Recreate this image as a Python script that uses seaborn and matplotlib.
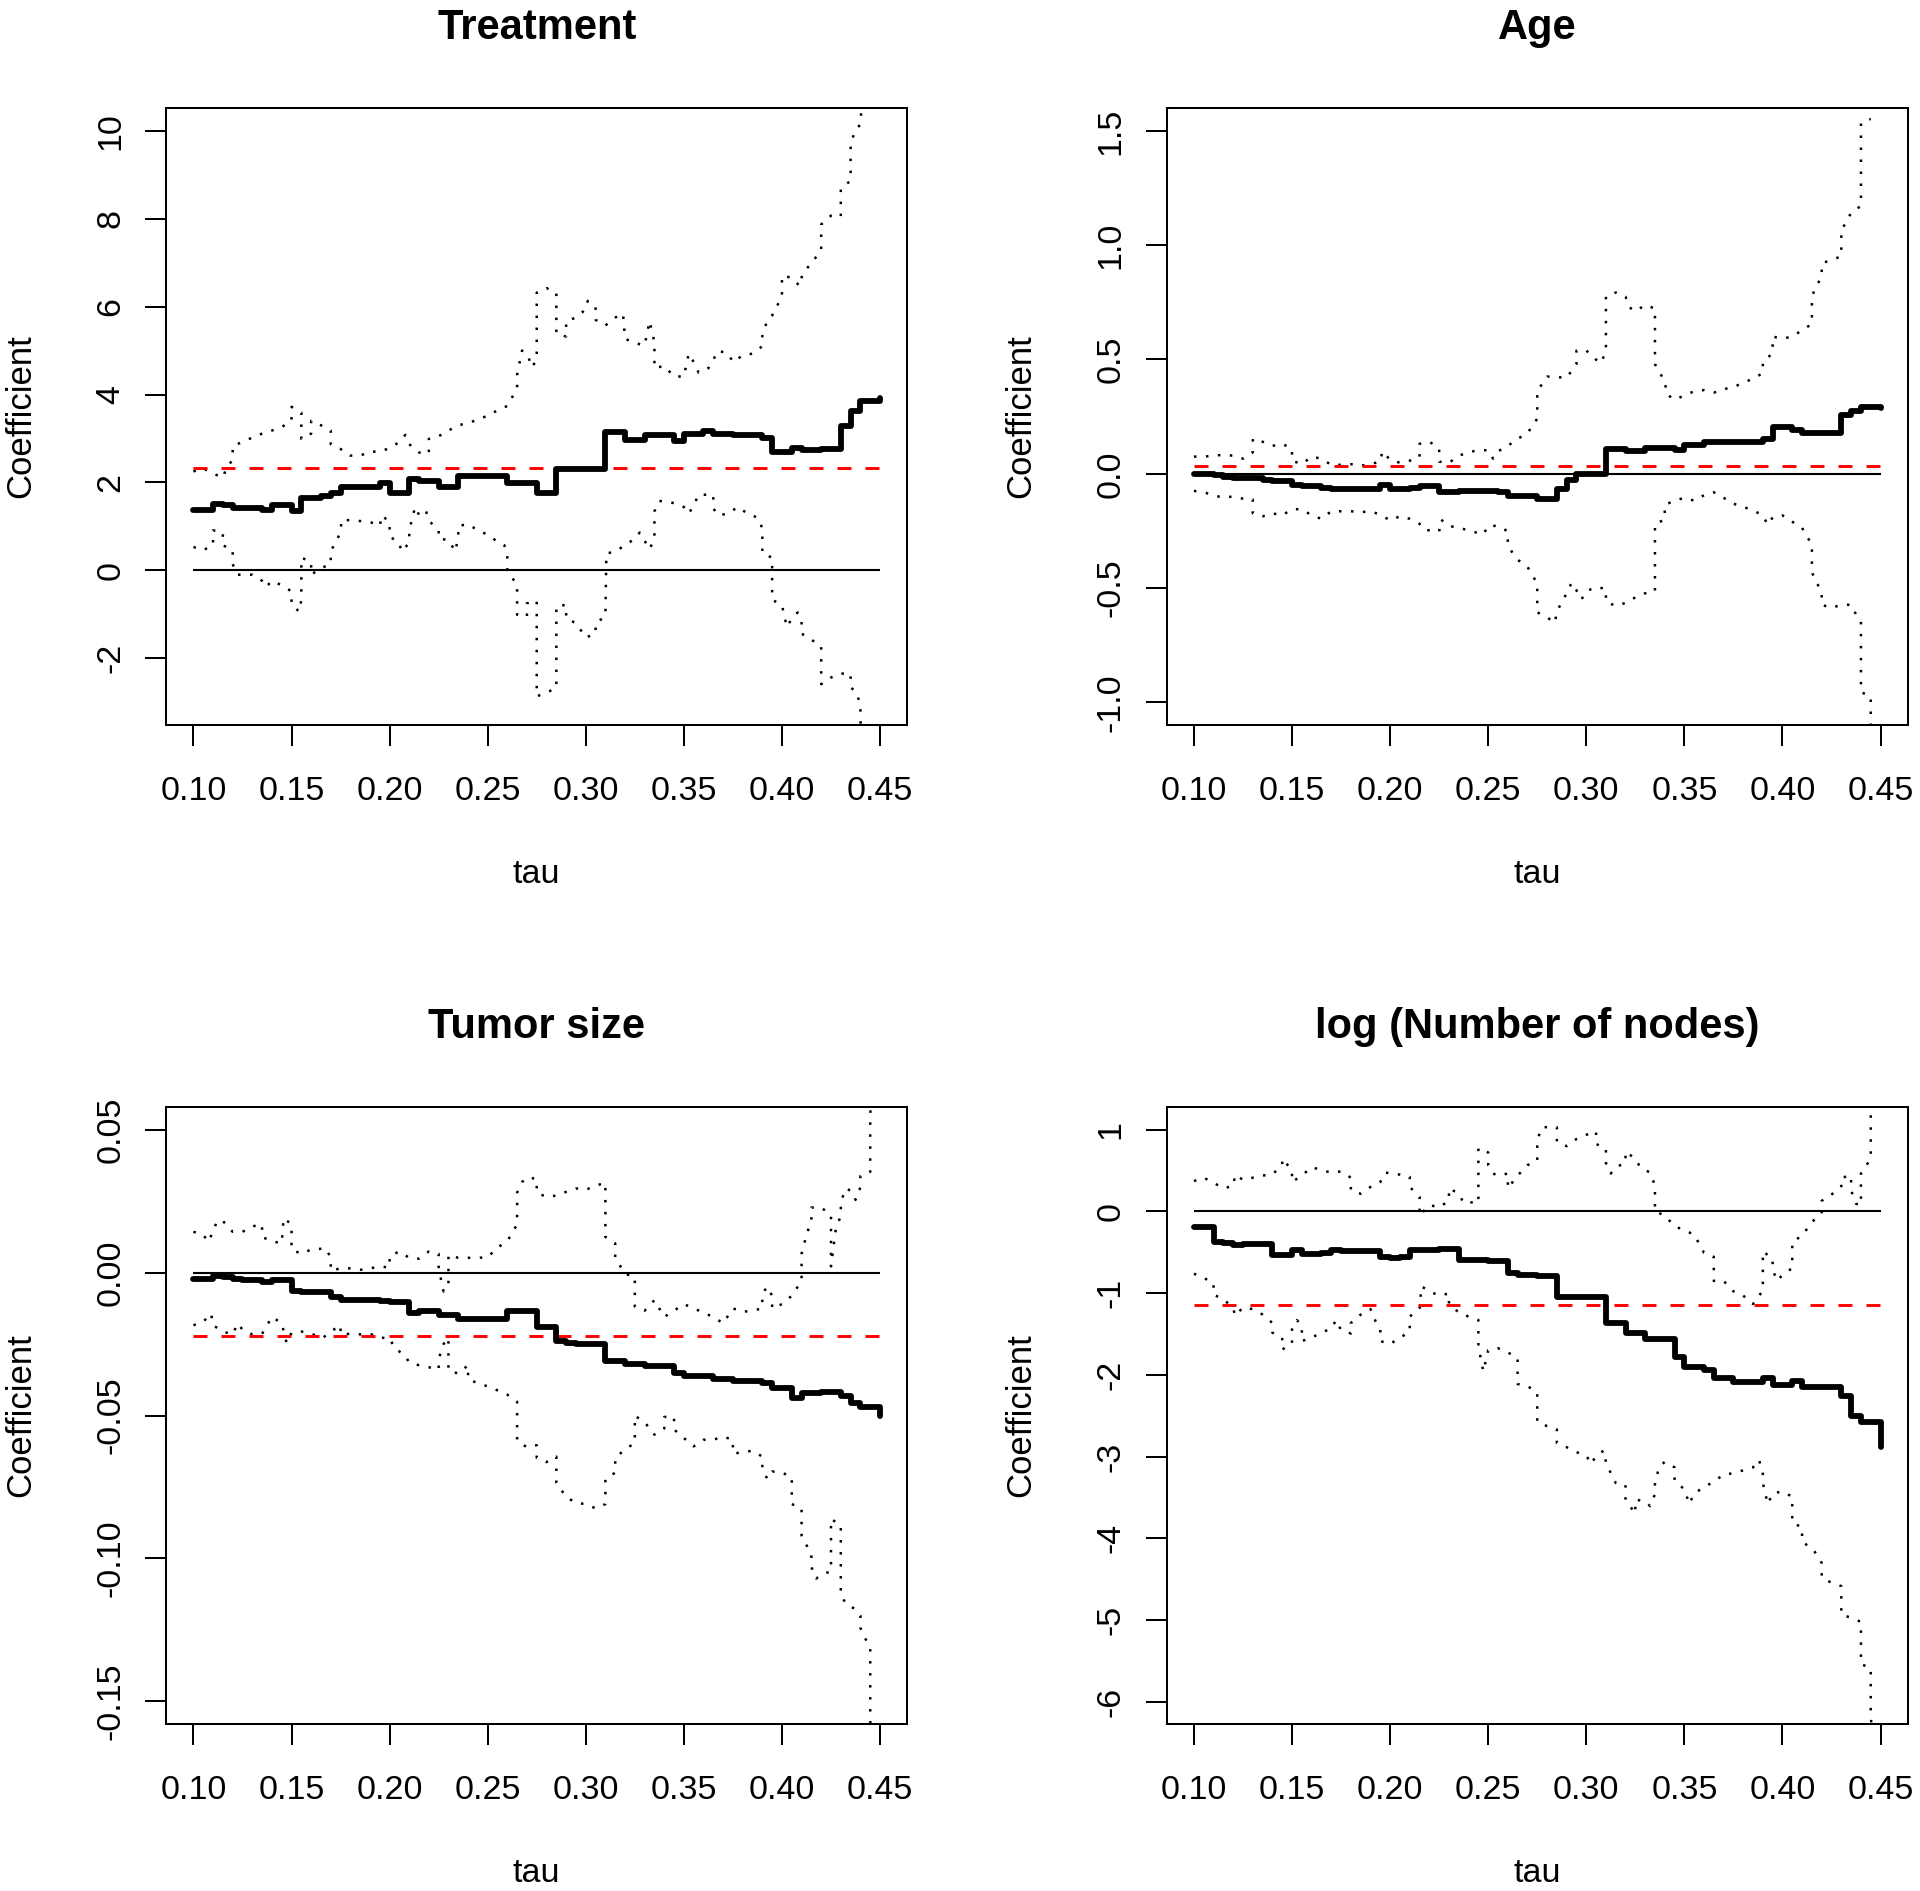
import matplotlib
matplotlib.use("Agg")
import matplotlib.pyplot as plt
import seaborn as sns

# ---- Treatment ----
treat_est_tau = [0.100, 0.110, 0.115, 0.120, 0.135, 0.140, 0.150, 0.155, 0.165, 0.170, 0.175, 0.195, 0.200,
                 0.210, 0.215, 0.225, 0.235, 0.260, 0.275, 0.285, 0.310, 0.320, 0.330, 0.345, 0.350, 0.360,
                 0.365, 0.375, 0.390, 0.395, 0.405, 0.410, 0.420, 0.430, 0.435, 0.440, 0.450]
treat_est = [1.38, 1.52, 1.48, 1.42, 1.38, 1.48, 1.36, 1.65, 1.70, 1.77, 1.89, 1.99, 1.77,
             2.07, 2.03, 1.89, 2.15, 1.99, 1.77, 2.30, 3.14, 2.97, 3.08, 2.95, 3.11, 3.18,
             3.11, 3.08, 3.02, 2.70, 2.78, 2.73, 2.76, 3.29, 3.62, 3.85, 3.93]
treat_up_tau = [0.100, 0.105, 0.110, 0.115, 0.117, 0.120, 0.120, 0.125, 0.130, 0.135, 0.140, 0.145, 0.150, 0.150,
                0.155, 0.155, 0.160, 0.160, 0.165, 0.170, 0.170, 0.175, 0.180, 0.185, 0.190, 0.195, 0.200,
                0.205, 0.208, 0.210, 0.215, 0.220, 0.220, 0.225, 0.230, 0.235, 0.240, 0.245, 0.250, 0.255,
                0.260, 0.265, 0.265, 0.2675, 0.2705, 0.2725, 0.275, 0.275, 0.280, 0.285, 0.285, 0.290, 0.290,
                0.295, 0.300, 0.301, 0.305, 0.305, 0.310, 0.315, 0.319, 0.320, 0.325, 0.330, 0.3325, 0.335,
                0.335, 0.340, 0.345, 0.350, 0.3525, 0.355, 0.3575, 0.3625, 0.365, 0.3675, 0.3725, 0.375,
                0.380, 0.385, 0.390, 0.390, 0.3925, 0.395, 0.400, 0.400, 0.405, 0.409, 0.4105, 0.415, 0.420,
                0.420, 0.425, 0.430, 0.430, 0.435, 0.435, 0.4375, 0.440, 0.4405, 0.441]
treat_up = [2.25, 2.32, 2.20, 2.11, 2.35, 2.51, 2.83, 2.92, 3.02, 3.11, 3.18, 3.26, 3.40, 3.72,
            3.59, 2.99, 3.11, 3.40, 3.30, 3.18, 2.87, 2.76, 2.61, 2.61, 2.70, 2.70, 2.78,
            2.92, 3.08, 2.87, 2.68, 2.66, 2.99, 3.05, 3.18, 3.30, 3.35, 3.43, 3.52, 3.64,
            3.74, 4.14, 4.45, 5.00, 4.89, 4.62, 4.79, 6.32, 6.42, 6.32, 5.38, 5.32, 5.67,
            5.75, 5.94, 6.13, 5.99, 5.70, 5.57, 5.75, 5.84, 5.27, 5.17, 5.12, 5.67, 5.19,
            4.60, 4.65, 4.41, 4.41, 4.93, 4.74, 4.50, 4.60, 4.79, 5.00, 4.93, 4.74,
            4.89, 4.93, 5.10, 5.38, 5.67, 5.80, 6.23, 6.70, 6.66, 6.47, 6.75, 6.99, 7.28,
            7.87, 8.07, 8.05, 8.70, 8.86, 9.72, 10.01, 10.15, 10.49, 11.0]
treat_lo_tau = [0.100, 0.105, 0.110, 0.110, 0.115, 0.115, 0.120, 0.120, 0.1225, 0.130, 0.135, 0.137, 0.140,
                0.145, 0.150, 0.150, 0.154, 0.155, 0.155, 0.160, 0.160, 0.165, 0.170, 0.170, 0.175, 0.1755,
                0.183, 0.190, 0.195, 0.196, 0.200, 0.200, 0.205, 0.206, 0.210, 0.210, 0.213, 0.215, 0.2185,
                0.220, 0.225, 0.225, 0.230, 0.2335, 0.235, 0.235, 0.240, 0.245, 0.250, 0.255, 0.2585, 0.260,
                0.260, 0.265, 0.265, 0.270, 0.270, 0.275, 0.275, 0.280, 0.285, 0.285, 0.290, 0.290, 0.295,
                0.300, 0.305, 0.305, 0.310, 0.3105, 0.315, 0.320, 0.325, 0.3275, 0.330, 0.3325, 0.335, 0.335,
                0.3375, 0.345, 0.350, 0.3525, 0.355, 0.3575, 0.365, 0.365, 0.3675, 0.3725, 0.3775, 0.3825,
                0.3875, 0.390, 0.390, 0.395, 0.395, 0.400, 0.4025, 0.405, 0.408, 0.410, 0.410, 0.415, 0.420,
                0.420, 0.425, 0.430, 0.435, 0.435, 0.438, 0.440, 0.440, 0.441]
treat_lo = [0.53, 0.46, 0.57, 0.91, 0.86, 0.57, 0.46, 0.14, -0.10, -0.10, -0.24, -0.38, -0.24,
            -0.34, -0.48, -0.79, -0.94, -0.67, 0.29, 0.19, -0.10, 0.05, 0.14, 0.43, 0.86, 1.15,
            1.13, 1.10, 1.01, 1.25, 1.10, 0.77, 0.62, 0.43, 0.62, 0.91, 1.44, 1.26, 1.36,
            1.13, 0.91, 0.72, 0.69, 0.43, 0.77, 1.01, 1.05, 0.91, 0.81, 0.65, 0.57, 0.34,
            0.00, -0.34, -1.01, -1.05, -0.75, -0.69, -2.87, -2.78, -2.68, -0.81, -0.79, -1.10, -1.20,
            -1.53, -1.44, -1.20, -1.05, 0.38, 0.43, 0.57, 0.72, 0.86, 0.67, 0.48, 0.72, 1.34,
            1.58, 1.53, 1.44, 1.29, 1.48, 1.72, 1.72, 1.41, 1.25, 1.29, 1.44, 1.29,
            1.20, 0.96, 0.38, 0.29, -0.67, -0.79, -1.29, -1.10, -0.96, -1.17, -1.44, -1.58, -1.72,
            -2.59, -2.44, -2.35, -2.35, -2.66, -2.78, -3.07, -3.40, -4.0]
treat_avg = 2.33

# ---- Age ----
age_est_tau = [0.100, 0.110, 0.115, 0.120, 0.130, 0.135, 0.140, 0.150, 0.155, 0.165, 0.170, 0.195, 0.200,
               0.210, 0.215, 0.225, 0.235, 0.255, 0.260, 0.275, 0.285, 0.290, 0.295, 0.310, 0.320, 0.330,
               0.345, 0.350, 0.360, 0.390, 0.395, 0.405, 0.410, 0.430, 0.435, 0.440, 0.450]
age_est = [0.000, -0.007, -0.013, -0.017, -0.020, -0.026, -0.031, -0.050, -0.053, -0.063, -0.066, -0.050, -0.068,
           -0.063, -0.053, -0.081, -0.075, -0.081, -0.099, -0.109, -0.068, -0.026, 0.000, 0.109, 0.098, 0.112,
           0.103, 0.127, 0.138, 0.153, 0.204, 0.193, 0.177, 0.256, 0.274, 0.293, 0.287]
age_up_tau = [0.100, 0.105, 0.110, 0.115, 0.120, 0.125, 0.130, 0.130, 0.135, 0.140, 0.145, 0.150, 0.150, 0.155,
              0.160, 0.165, 0.170, 0.175, 0.180, 0.185, 0.190, 0.195, 0.196, 0.200, 0.205, 0.210, 0.215,
              0.215, 0.220, 0.225, 0.225, 0.230, 0.235, 0.240, 0.245, 0.250, 0.2525, 0.255, 0.260, 0.265,
              0.270, 0.275, 0.275, 0.280, 0.290, 0.295, 0.295, 0.300, 0.305, 0.3075, 0.310, 0.310, 0.315,
              0.320, 0.3218, 0.325, 0.330, 0.335, 0.335, 0.3375, 0.340, 0.341, 0.345, 0.350, 0.355, 0.360,
              0.365, 0.370, 0.375, 0.380, 0.385, 0.390, 0.390, 0.395, 0.395, 0.400, 0.405, 0.410, 0.415,
              0.415, 0.4175, 0.420, 0.420, 0.425, 0.430, 0.430, 0.4325, 0.435, 0.440, 0.440, 0.440, 0.445]
age_up = [0.075, 0.075, 0.079, 0.083, 0.079, 0.066, 0.094, 0.153, 0.140, 0.122, 0.131, 0.109, 0.057, 0.042,
          0.075, 0.066, 0.039, 0.039, 0.042, 0.035, 0.042, 0.053, 0.098, 0.061, 0.048, 0.057, 0.072,
          0.131, 0.140, 0.112, 0.053, 0.048, 0.079, 0.094, 0.103, 0.103, 0.066, 0.098, 0.122, 0.153,
          0.177, 0.241, 0.361, 0.425, 0.420, 0.480, 0.539, 0.539, 0.499, 0.484, 0.536, 0.775, 0.793,
          0.775, 0.729, 0.711, 0.738, 0.723, 0.480, 0.440, 0.407, 0.348, 0.324, 0.342, 0.361, 0.366,
          0.355, 0.370, 0.379, 0.398, 0.416, 0.440, 0.490, 0.527, 0.600, 0.591, 0.600, 0.628, 0.655,
          0.775, 0.827, 0.858, 0.919, 0.937, 0.950, 1.070, 1.097, 1.143, 1.171, 1.226, 1.534, 1.552]
age_lo_tau = [0.100, 0.105, 0.110, 0.115, 0.120, 0.125, 0.130, 0.130, 0.135, 0.140, 0.145, 0.150, 0.155, 0.160,
              0.165, 0.170, 0.175, 0.180, 0.185, 0.190, 0.195, 0.200, 0.205, 0.210, 0.215, 0.2175, 0.220,
              0.225, 0.226, 0.230, 0.235, 0.240, 0.245, 0.2475, 0.250, 0.255, 0.260, 0.260, 0.2625, 0.265,
              0.270, 0.275, 0.275, 0.280, 0.284, 0.285, 0.290, 0.2925, 0.295, 0.2975, 0.300, 0.305, 0.310,
              0.310, 0.315, 0.320, 0.325, 0.330, 0.335, 0.335, 0.340, 0.340, 0.345, 0.350, 0.355, 0.360,
              0.365, 0.370, 0.375, 0.380, 0.385, 0.390, 0.3925, 0.395, 0.400, 0.405, 0.410, 0.415, 0.415,
              0.4175, 0.420, 0.420, 0.425, 0.430, 0.435, 0.4375, 0.440, 0.440, 0.445, 0.445, 0.446]
age_lo = [-0.075, -0.081, -0.094, -0.105, -0.099, -0.109, -0.112, -0.173, -0.186, -0.173, -0.182, -0.155, -0.155, -0.182,
          -0.197, -0.164, -0.164, -0.164, -0.168, -0.164, -0.179, -0.204, -0.186, -0.197, -0.219, -0.247, -0.247,
          -0.252, -0.201, -0.228, -0.237, -0.247, -0.260, -0.265, -0.228, -0.228, -0.252, -0.311, -0.348, -0.376,
          -0.407, -0.480, -0.606, -0.628, -0.652, -0.602, -0.523, -0.477, -0.510, -0.550, -0.514, -0.495, -0.504,
          -0.560, -0.578, -0.565, -0.541, -0.523, -0.514, -0.219, -0.201, -0.136, -0.118, -0.105, -0.118, -0.094,
          -0.081, -0.105, -0.131, -0.145, -0.160, -0.182, -0.223, -0.191, -0.182, -0.210, -0.237, -0.311, -0.431,
          -0.477, -0.517, -0.573, -0.587, -0.573, -0.573, -0.615, -0.646, -0.955, -0.974, -1.094, -1.30]
age_avg = 0.033

# ---- Tumor size ----
tumor_est_tau = [0.100, 0.110, 0.115, 0.120, 0.125, 0.135, 0.140, 0.150, 0.155, 0.170, 0.175, 0.195, 0.200,
                 0.210, 0.215, 0.225, 0.235, 0.260, 0.275, 0.285, 0.290, 0.295, 0.310, 0.320, 0.330, 0.345,
                 0.350, 0.365, 0.375, 0.390, 0.395, 0.405, 0.410, 0.420, 0.430, 0.435, 0.440, 0.450, 0.450]
tumor_est = [-0.0022, -0.0010, -0.0015, -0.0022, -0.0025, -0.0031, -0.0027, -0.0063, -0.0069, -0.0085, -0.0096,
             -0.0099, -0.0103, -0.0140, -0.0135, -0.0147, -0.0162, -0.0133, -0.0191, -0.0239, -0.0247, -0.0250,
             -0.0309, -0.0320, -0.0328, -0.0351, -0.0361, -0.0373, -0.0379, -0.0386, -0.0405, -0.0437, -0.0420,
             -0.0417, -0.0432, -0.0457, -0.0471, -0.0471, -0.0501]
tumor_up_tau = [0.100, 0.105, 0.1075, 0.110, 0.112, 0.115, 0.120, 0.125, 0.130, 0.135, 0.135, 0.140, 0.145, 0.146,
                0.150, 0.150, 0.155, 0.160, 0.1675, 0.170, 0.170, 0.175, 0.180, 0.185, 0.190, 0.195, 0.200,
                0.200, 0.205, 0.210, 0.215, 0.220, 0.225, 0.225, 0.2275, 0.230, 0.230, 0.235, 0.240, 0.245,
                0.250, 0.255, 0.260, 0.265, 0.265, 0.2675, 0.270, 0.275, 0.275, 0.280, 0.285, 0.290, 0.295,
                0.300, 0.305, 0.310, 0.310, 0.315, 0.315, 0.320, 0.325, 0.325, 0.330, 0.335, 0.340, 0.345,
                0.350, 0.355, 0.360, 0.365, 0.370, 0.375, 0.380, 0.385, 0.390, 0.390, 0.3925, 0.395, 0.395,
                0.400, 0.405, 0.410, 0.410, 0.4125, 0.415, 0.415, 0.420, 0.425, 0.425, 0.4275, 0.430, 0.430,
                0.4325, 0.435, 0.4375, 0.440, 0.440, 0.445, 0.445, 0.445, 0.4455]
tumor_up = [0.0143, 0.0133, 0.0108, 0.0143, 0.0181, 0.0181, 0.0143, 0.0143, 0.0162, 0.0169, 0.0125, 0.0110, 0.0103,
            0.0191, 0.0169, 0.0081, 0.0066, 0.0081, 0.0085, 0.0052, 0.0007, 0.0015, 0.0015, 0.0010, 0.0015,
            0.0022, 0.0018, 0.0059, 0.0074, 0.0052, 0.0049, 0.0074, 0.0066, 0.0015, -0.0066, -0.0037, 0.0062,
            0.0052, 0.0052, 0.0052, 0.0054, 0.0088, 0.0110, 0.0169, 0.0280, 0.0317, 0.0334, 0.0328, 0.0280,
            0.0265, 0.0270, 0.0283, 0.0295, 0.0290, 0.0305, 0.0314, 0.0125, 0.0103, 0.0052, -0.0004, -0.0015,
            -0.0118, -0.0133, -0.0096, -0.0155, -0.0133, -0.0110, -0.0125, -0.0140, -0.0155, -0.0177, -0.0125,
            -0.0137, -0.0133, -0.0125, -0.0074, -0.0049, -0.0081, -0.0125, -0.0110, -0.0081, -0.0029, 0.0066,
            0.0132, 0.0184, 0.0228, 0.0228, 0.0202, 0.0022, 0.0155, 0.0199, 0.0246, 0.0295, 0.0287, 0.0255,
            0.0299, 0.0339, 0.0353, 0.0398, 0.0549, 0.0620]
tumor_lo_tau = [0.100, 0.105, 0.109, 0.110, 0.115, 0.120, 0.1225, 0.125, 0.130, 0.135, 0.140, 0.145, 0.1475, 0.150,
                0.155, 0.160, 0.166, 0.170, 0.175, 0.175, 0.180, 0.185, 0.190, 0.195, 0.200, 0.2025, 0.2075,
                0.210, 0.215, 0.220, 0.225, 0.225, 0.2275, 0.230, 0.230, 0.235, 0.240, 0.240, 0.245, 0.250,
                0.255, 0.260, 0.265, 0.265, 0.270, 0.275, 0.275, 0.280, 0.285, 0.285, 0.290, 0.295, 0.300,
                0.305, 0.310, 0.310, 0.315, 0.315, 0.320, 0.325, 0.325, 0.330, 0.335, 0.340, 0.340, 0.345,
                0.345, 0.350, 0.355, 0.360, 0.365, 0.370, 0.375, 0.375, 0.380, 0.385, 0.390, 0.390, 0.3925,
                0.395, 0.400, 0.405, 0.405, 0.410, 0.410, 0.415, 0.415, 0.4175, 0.420, 0.425, 0.425, 0.430,
                0.430, 0.430, 0.4325, 0.4375, 0.440, 0.440, 0.4425, 0.445, 0.445, 0.4455]
tumor_lo = [-0.0184, -0.0172, -0.0143, -0.0184, -0.0206, -0.0216, -0.0178, -0.0199, -0.0216, -0.0214, -0.0155,
            -0.0177, -0.0246, -0.0211, -0.0206, -0.0214, -0.0228, -0.0206, -0.0184, -0.0216, -0.0214, -0.0216,
            -0.0214, -0.0228, -0.0228, -0.0265, -0.0287, -0.0314, -0.0324, -0.0331, -0.0339, -0.0302, -0.0250,
            -0.0228, -0.0343, -0.0353, -0.0324, -0.0373, -0.0387, -0.0398, -0.0412, -0.0427, -0.0452, -0.0589,
            -0.0611, -0.0604, -0.0648, -0.0663, -0.0644, -0.0736, -0.0785, -0.0806, -0.0810, -0.0825, -0.0810,
            -0.0722, -0.0700, -0.0648, -0.0619, -0.0596, -0.0501, -0.0523, -0.0567, -0.0545, -0.0505, -0.0505,
            -0.0549, -0.0579, -0.0608, -0.0585, -0.0585, -0.0574, -0.0585, -0.0633, -0.0629, -0.0623, -0.0644,
            -0.0685, -0.0722, -0.0696, -0.0700, -0.0715, -0.0810, -0.0825, -0.0920, -0.0987, -0.1031, -0.1071,
            -0.1056, -0.1046, -0.0862, -0.0884, -0.1075, -0.1124, -0.1159, -0.1178, -0.1200, -0.1244, -0.1281,
            -0.1311, -0.1554, -0.1700]
tumor_avg = -0.0222

# ---- log (Number of nodes) ----
nodes_est_tau = [0.100, 0.110, 0.115, 0.120, 0.125, 0.140, 0.150, 0.155, 0.165, 0.170, 0.175, 0.195, 0.200,
                 0.205, 0.210, 0.225, 0.235, 0.250, 0.260, 0.265, 0.275, 0.285, 0.310, 0.320, 0.330, 0.345,
                 0.350, 0.360, 0.365, 0.375, 0.390, 0.395, 0.405, 0.410, 0.430, 0.435, 0.440, 0.450, 0.450]
nodes_est = [-0.196, -0.371, -0.391, -0.412, -0.397, -0.530, -0.474, -0.525, -0.505, -0.474, -0.489, -0.556, -0.566,
             -0.556, -0.474, -0.463, -0.592, -0.602, -0.757, -0.772, -0.788, -1.045, -1.370, -1.483, -1.560, -1.777,
             -1.905, -1.946, -2.034, -2.085, -2.034, -2.127, -2.070, -2.142, -2.255, -2.497, -2.575, -2.575, -2.884]
nodes_up_tau = [0.100, 0.105, 0.110, 0.115, 0.120, 0.121, 0.125, 0.130, 0.135, 0.140, 0.145, 0.145, 0.150, 0.150,
                0.155, 0.160, 0.165, 0.170, 0.175, 0.180, 0.180, 0.185, 0.190, 0.195, 0.1975, 0.2025, 0.210,
                0.210, 0.215, 0.215, 0.220, 0.225, 0.230, 0.230, 0.235, 0.2375, 0.240, 0.245, 0.245, 0.250,
                0.250, 0.2525, 0.255, 0.260, 0.260, 0.265, 0.270, 0.275, 0.275, 0.2775, 0.285, 0.285, 0.290,
                0.295, 0.300, 0.305, 0.305, 0.310, 0.310, 0.3125, 0.315, 0.320, 0.320, 0.325, 0.3275, 0.3325,
                0.335, 0.335, 0.340, 0.345, 0.350, 0.355, 0.360, 0.365, 0.365, 0.370, 0.375, 0.380, 0.385,
                0.390, 0.390, 0.395, 0.395, 0.3975, 0.400, 0.405, 0.405, 0.410, 0.415, 0.420, 0.420, 0.425,
                0.430, 0.430, 0.435, 0.435, 0.4375, 0.440, 0.440, 0.440, 0.445, 0.445, 0.4455]
nodes_up = [0.371, 0.412, 0.350, 0.283, 0.309, 0.448, 0.386, 0.412, 0.438, 0.453, 0.566, 0.644, 0.505, 0.360,
            0.438, 0.541, 0.505, 0.474, 0.489, 0.412, 0.257, 0.216, 0.299, 0.360, 0.474, 0.463, 0.422,
            0.299, 0.180, -0.051, 0.077, 0.051, 0.129, 0.283, 0.216, 0.103, 0.113, 0.103, 0.772, 0.721,
            0.566, 0.463, 0.438, 0.463, 0.283, 0.438, 0.566, 0.618, 0.875, 1.030, 1.030, 0.850, 0.798,
            0.886, 0.937, 0.978, 0.824, 0.772, 0.592, 0.463, 0.541, 0.592, 0.731, 0.644, 0.541, 0.474,
            0.319, 0.000, -0.051, -0.180, -0.232, -0.283, -0.505, -0.556, -0.850, -0.850, -0.978, -1.030, -1.133,
            -0.968, -0.489, -0.577, -0.721, -0.850, -0.772, -0.695, -0.371, -0.299, -0.129, -0.026, 0.129, 0.206,
            0.309, 0.412, 0.438, 0.257, 0.093, 0.077, 0.257, 0.463, 0.644, 1.159, 1.40]
nodes_lo_tau = [0.100, 0.105, 0.110, 0.110, 0.115, 0.120, 0.121, 0.125, 0.130, 0.135, 0.140, 0.140, 0.145, 0.145,
                0.150, 0.150, 0.1525, 0.155, 0.155, 0.160, 0.165, 0.170, 0.1725, 0.175, 0.180, 0.180, 0.185,
                0.190, 0.1925, 0.195, 0.195, 0.200, 0.205, 0.210, 0.210, 0.215, 0.216, 0.220, 0.225, 0.230,
                0.230, 0.235, 0.240, 0.245, 0.245, 0.245, 0.2475, 0.250, 0.255, 0.260, 0.265, 0.265, 0.265,
                0.270, 0.275, 0.275, 0.275, 0.280, 0.285, 0.285, 0.290, 0.295, 0.300, 0.3025, 0.305, 0.309,
                0.310, 0.3125, 0.315, 0.320, 0.320, 0.325, 0.325, 0.330, 0.3325, 0.335, 0.335, 0.3375, 0.340,
                0.345, 0.345, 0.350, 0.3525, 0.355, 0.360, 0.365, 0.370, 0.375, 0.380, 0.385, 0.388, 0.390,
                0.390, 0.3925, 0.395, 0.400, 0.405, 0.405, 0.405, 0.410, 0.410, 0.415, 0.4175, 0.420, 0.420,
                0.425, 0.430, 0.430, 0.430, 0.435, 0.440, 0.440, 0.440, 0.445, 0.445, 0.4455]
nodes_lo = [-0.762, -0.814, -0.875, -1.020, -1.071, -1.184, -1.277, -1.174, -1.195, -1.262, -1.365, -1.483, -1.545,
            -1.689, -1.622, -1.442, -1.329, -1.401, -1.586, -1.545, -1.483, -1.432, -1.329, -1.452, -1.493, -1.365,
            -1.262, -1.195, -1.339, -1.442, -1.586, -1.622, -1.545, -1.473, -1.287, -1.184, -0.917, -0.978, -1.030,
            -1.004, -1.133, -1.236, -1.287, -1.329, -1.493, -1.648, -1.957, -1.699, -1.674, -1.725, -1.792, -1.982,
            -2.111, -2.137, -2.214, -2.410, -2.575, -2.626, -2.667, -2.832, -2.884, -2.945, -2.987, -3.090, -2.987,
            -2.925, -3.064, -3.203, -3.321, -3.347, -3.527, -3.697, -3.527, -3.543, -3.605, -3.460, -3.296, -3.115,
            -3.064, -3.131, -3.296, -3.399, -3.579, -3.450, -3.373, -3.306, -3.218, -3.203, -3.167, -3.131, -3.038,
            -3.193, -3.321, -3.579, -3.450, -3.424, -3.491, -3.630, -3.811, -3.862, -4.042, -4.119, -4.197, -4.300,
            -4.480, -4.542, -4.583, -4.763, -4.933, -4.969, -5.021, -5.355, -5.536, -5.587, -6.102, -6.40]
nodes_avg = -1.143

x_ticks = [0.10, 0.15, 0.20, 0.25, 0.30, 0.35, 0.40, 0.45]
x_labels = ["0.10", "0.15", "0.20", "0.25", "0.30", "0.35", "0.40", "0.45"]

panels = [
    dict(title="Treatment", est_tau=treat_est_tau, est=treat_est, up_tau=treat_up_tau, up=treat_up,
         lo_tau=treat_lo_tau, lo=treat_lo, avg=treat_avg, ylim=(-3.52, 10.52),
         yticks=[-2, 0, 2, 4, 6, 8, 10], ylabels=["-2", "0", "2", "4", "6", "8", "10"],
         pos=[0.0867, 0.6166, 0.3857, 0.3263]),
    dict(title="Age", est_tau=age_est_tau, est=age_est, up_tau=age_up_tau, up=age_up,
         lo_tau=age_lo_tau, lo=age_lo, avg=age_avg, ylim=(-1.099, 1.60),
         yticks=[-1.0, -0.5, 0.0, 0.5, 1.0, 1.5], ylabels=["-1.0", "-0.5", "0.0", "0.5", "1.0", "1.5"],
         pos=[0.6078, 0.6166, 0.3857, 0.3263]),
    dict(title="Tumor size", est_tau=tumor_est_tau, est=tumor_est, up_tau=tumor_up_tau, up=tumor_up,
         lo_tau=tumor_lo_tau, lo=tumor_lo, avg=tumor_avg, ylim=(-0.158, 0.058),
         yticks=[-0.15, -0.10, -0.05, 0.00, 0.05], ylabels=["-0.15", "-0.10", "-0.05", "0.00", "0.05"],
         pos=[0.0867, 0.0883, 0.3857, 0.3263]),
    dict(title="log (Number of nodes)", est_tau=nodes_est_tau, est=nodes_est, up_tau=nodes_up_tau, up=nodes_up,
         lo_tau=nodes_lo_tau, lo=nodes_lo, avg=nodes_avg, ylim=(-6.27, 1.277),
         yticks=[-6, -5, -4, -3, -2, -1, 0, 1], ylabels=["-6", "-5", "-4", "-3", "-2", "-1", "0", "1"],
         pos=[0.6078, 0.0883, 0.3857, 0.3263]),
]

sns.set_theme(style="ticks")
plt.rcParams["font.family"] = ["Liberation Sans", "DejaVu Sans"]
plt.rcParams["text.color"] = "black"
plt.rcParams["axes.labelcolor"] = "black"
plt.rcParams["xtick.color"] = "black"
plt.rcParams["ytick.color"] = "black"

fig = plt.figure(figsize=(19.2, 18.91), dpi=100)

for p in panels:
    ax = fig.add_axes(p["pos"])
    t0, t1 = p["est_tau"][0], p["est_tau"][-1]
    # confidence bands (dotted)
    sns.lineplot(x=p["up_tau"], y=p["up"], ax=ax, estimator=None, sort=False, color="black",
                 lw=1.8, linestyle=(0, (1, 3.8)))
    sns.lineplot(x=p["lo_tau"], y=p["lo"], ax=ax, estimator=None, sort=False, color="black",
                 lw=1.8, linestyle=(0, (1, 3.8)))
    # zero line and average (dashed red)
    ax.hlines(0, t0, t1, color="black", lw=1.5)
    ax.hlines(p["avg"], t0, t1, color="red", lw=2.1, linestyles=[(0, (4.8, 4.8))])
    # estimate (thick step)
    sns.lineplot(x=p["est_tau"], y=p["est"], ax=ax, estimator=None, sort=False, color="black",
                 lw=4.2, drawstyle="steps-post")

    ax.set_xlim(0.08625, 0.46375)
    ax.set_ylim(*p["ylim"])
    ax.set_xticks(x_ticks)
    ax.set_xticklabels(x_labels)
    ax.set_yticks(p["yticks"])
    ax.set_yticklabels(p["ylabels"])
    ax.tick_params(axis="both", direction="out", length=15, width=1.45, colors="black", labelsize=24.5)
    ax.tick_params(axis="x", pad=22)
    ax.tick_params(axis="y", pad=14, labelrotation=90)
    for lab in ax.get_yticklabels():
        lab.set_va("center")
    for s in ax.spines.values():
        s.set_visible(True)
        s.set_linewidth(1.45)
        s.set_color("black")

    ax.set_title(p["title"], fontsize=30, fontweight="bold", pad=50, color="black")
    ax.set_xlabel("tau", fontsize=24.5)
    ax.xaxis.label.set_va("center")
    ax.xaxis.set_label_coords(0.5, -0.243)
    ax.set_ylabel("Coefficient", fontsize=25)
    ax.yaxis.label.set_va("center")
    ax.yaxis.set_label_coords(-0.197, 0.5)

fig.savefig("out.png", dpi=100, facecolor="white")
